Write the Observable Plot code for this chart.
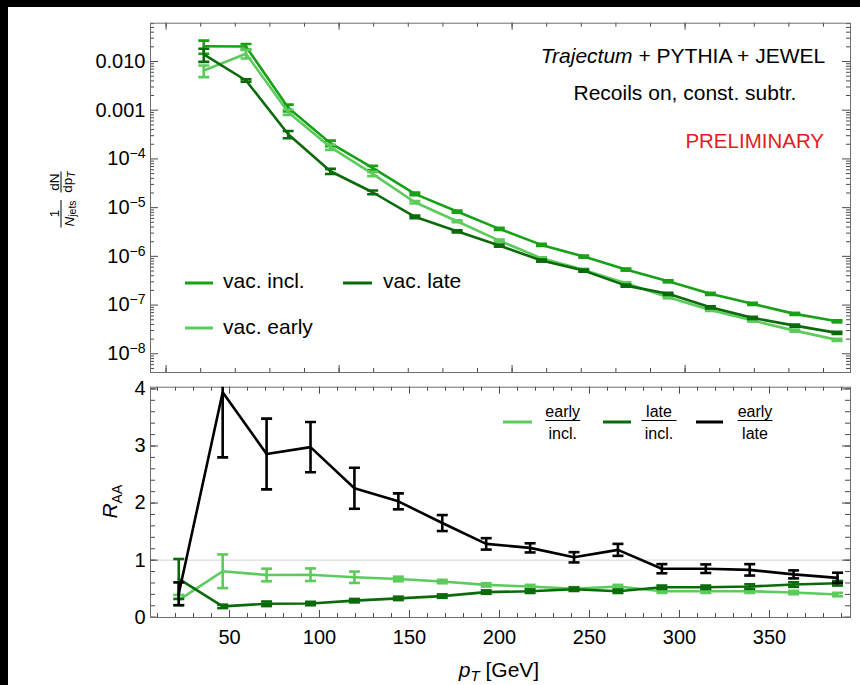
<!DOCTYPE html>
<html><head><meta charset="utf-8">
<script src="https://cdn.jsdelivr.net/npm/d3@7"></script>
<script src="https://cdn.jsdelivr.net/npm/@observablehq/plot@0.6"></script>
<style>
html,body{margin:0;padding:0;background:#000;width:860px;height:685px;overflow:hidden;font-family:"Liberation Sans",Arial,Helvetica,sans-serif}
#page{position:absolute;left:8px;top:7px;width:852px;height:678px;background:#fff}
#top{position:absolute;left:0;top:0}
#bottom{position:absolute;left:0;top:372px}
svg{display:block}
</style></head><body><div id="page"><div id="top"></div><div id="bottom"></div></div>
<script>
// ---------- data ----------
const pT = [21.8, 46.2, 70.6, 95.0, 119.4, 143.8, 168.2, 192.6, 217.0, 241.4, 265.8, 290.2, 314.6, 339.0, 363.4, 387.8];

const vacIncl  = [0.0206, 0.0203, 1.12e-3, 2.10e-4, 6.56e-5, 1.92e-5, 8.32e-6, 3.67e-6, 1.72e-6, 9.9e-7, 5.36e-7, 3.08e-7, 1.70e-7, 1.06e-7, 6.6e-8, 4.65e-8];
const vacEarly = [6.53e-3, 0.0144, 9.1e-4, 1.74e-4, 4.94e-5, 1.29e-5, 5.26e-6, 2.11e-6, 9.1e-7, 5.28e-7, 2.81e-7, 1.45e-7, 7.96e-8, 4.81e-8, 2.99e-8, 1.93e-8];
const vacLate  = [0.0140, 4.07e-3, 3.2e-4, 5.58e-5, 2.07e-5, 6.47e-6, 3.27e-6, 1.67e-6, 8.2e-7, 5.1e-7, 2.51e-7, 1.70e-7, 9.0e-8, 5.46e-8, 3.79e-8, 2.69e-8];
// relative errors
const relErrIncl  = [0.30, 0.13, 0.16, 0.13, 0.10, 0.06, 0.05, 0.05, 0.05, 0.05, 0.05, 0.05, 0.05, 0.05, 0.05, 0.05];
const relErrEarly = [0.27, 0.20, 0.12, 0.12, 0.10, 0.06, 0.05, 0.05, 0.05, 0.05, 0.05, 0.05, 0.05, 0.05, 0.05, 0.05];
const relErrLate  = [0.30, 0.06, 0.17, 0.12, 0.09, 0.06, 0.05, 0.05, 0.05, 0.05, 0.05, 0.05, 0.05, 0.05, 0.05, 0.05];

const ratioEarlyIncl = [0.30, 0.805, 0.74, 0.745, 0.70, 0.67, 0.625, 0.567, 0.537, 0.497, 0.537, 0.455, 0.455, 0.455, 0.432, 0.397];
const errEarlyIncl   = [0.09, 0.295, 0.11, 0.11, 0.10, 0.04, 0.03, 0.03, 0.03, 0.03, 0.03, 0.03, 0.03, 0.03, 0.03, 0.03];
const ratioLateIncl  = [0.67, 0.19, 0.235, 0.24, 0.29, 0.33, 0.37, 0.44, 0.455, 0.49, 0.455, 0.525, 0.525, 0.537, 0.572, 0.595];
const errLateIncl    = [0.35, 0.03, 0.04, 0.03, 0.03, 0.03, 0.03, 0.03, 0.03, 0.03, 0.03, 0.03, 0.03, 0.04, 0.04, 0.04];
const ratioEarlyLate = [0.41, 3.94, 2.86, 2.98, 2.26, 2.03, 1.65, 1.285, 1.215, 1.05, 1.18, 0.85, 0.85, 0.83, 0.75, 0.69];
const errEarlyLate   = [0.20, 1.14, 0.62, 0.44, 0.36, 0.14, 0.14, 0.10, 0.08, 0.09, 0.105, 0.08, 0.075, 0.10, 0.07, 0.09];

// tick labels
const upperYTicks = [1e-2, 1e-3, 1e-4, 1e-5, 1e-6, 1e-7, 1e-8];
const upperYLabels = ["0.010", "0.001", "10^-4", "10^-5", "10^-6", "10^-7", "10^-8"];
const lowerXTicks = [50, 100, 150, 200, 250, 300, 350];
const lowerYTicks = [0, 1, 2, 3, 4];
const lowerYLabels = ["0", "1", "2", "3", "4"];

// ---------- style ----------
const FONT = '"Liberation Sans", Arial, Helvetica, sans-serif';
const C_INCL = "#17a117", C_EARLY = "#5ccb5c", C_LATE = "#0b6b0b", C_RATIO = "#000000";
const FRAME = "#6e6e6e", TICK = "#4a4a4a";
const SW = 2.6;

const capSymbol = {draw(ctx, size) { const r = Math.sqrt(size / Math.PI); ctx.moveTo(-r, 0); ctx.lineTo(r, 0); }};

function seriesMarks(rows, color) {
  return [
    Plot.ruleX(rows, {x: "x", y1: "lo", y2: "hi", stroke: color, strokeWidth: SW, clip: true}),
    Plot.dot(rows, {x: "x", y: "lo", symbol: capSymbol, r: 5.5, stroke: color, strokeWidth: SW, fill: "none", clip: true}),
    Plot.dot(rows, {x: "x", y: "hi", symbol: capSymbol, r: 5.5, stroke: color, strokeWidth: SW, fill: "none", clip: true}),
    Plot.line(rows, {x: "x", y: "y", stroke: color, strokeWidth: SW, clip: true})
  ];
}
const relRows = (vals, rel) => pT.map((x, i) => ({x, y: vals[i], lo: vals[i] * (1 - rel[i]), hi: vals[i] * (1 + rel[i])}));
const absRows = (vals, err) => pT.map((x, i) => ({x, y: vals[i], lo: vals[i] - err[i], hi: vals[i] + err[i]}));

function tickMarks(innerW, innerH, xs, xLen, ys, yLen) {
  return [
    Plot.tickX(xs, {x: d => d, insetTop: innerH - xLen, stroke: TICK}),
    Plot.tickX(xs, {x: d => d, insetBottom: innerH - xLen, stroke: TICK}),
    Plot.tickY(ys, {y: d => d, insetRight: innerW - yLen, stroke: TICK}),
    Plot.tickY(ys, {y: d => d, insetLeft: innerW - yLen, stroke: TICK})
  ];
}

// ---------- upper panel ----------
const W = 852, ML = 142, MR = 10, innerW = W - ML - MR;
const UH = 372, UMT = 15.7, UMB = 7, uInnerH = UH - UMT - UMB;

const uMinorY = [];
for (let e = -9; e <= -2; e++) for (let k = 2; k <= 9; k++) { const v = k * Math.pow(10, e); if (v > 4.13e-9 && v < 0.0611) uMinorY.push(v); }
const uMinorX = d3.range(0, 396, 20);
const uMajorX = [0, 100, 200, 300];
const labelMap = new Map(upperYTicks.map((v, i) => [v, upperYLabels[i]]));
const lowerLabelMap = new Map(lowerYTicks.map((v, i) => [v, lowerYLabels[i]]));

const upper = Plot.plot({
  width: W, height: UH, marginLeft: ML, marginRight: MR, marginTop: UMT, marginBottom: UMB,
  x: {domain: [-9, 395.6], axis: null},
  y: {type: "log", domain: [4.13e-9, 0.0611], label: null},
  style: {fontFamily: FONT, fontSize: "20px", color: "#000", background: "transparent", overflow: "visible"},
  marks: [
    ...tickMarks(innerW, uInnerH, uMinorX, 4, uMinorY, 4),
    ...tickMarks(innerW, uInnerH, uMajorX, 7, upperYTicks, 8),
    Plot.frame({stroke: FRAME}),
    Plot.axisY(upperYTicks, {anchor: "left", tickSize: 0, tickPadding: 5, label: null, fontSize: 20, tickFormat: v => labelMap.get(v)}),
    ...seriesMarks(relRows(vacIncl, relErrIncl), C_INCL),
    ...seriesMarks(relRows(vacEarly, relErrEarly), C_EARLY),
    ...seriesMarks(relRows(vacLate, relErrLate), C_LATE)
  ]
});
document.getElementById("top").appendChild(upper);

// ---------- lower panel ----------
const LH = 306, LMT = 7.7, LMB = 68, lInnerH = LH - LMT - LMB;
const lMinorX = d3.range(10, 395, 10);
const lMinorY = d3.range(0, 4.01, 0.2);

const lower = Plot.plot({
  width: W, height: LH, marginLeft: ML, marginRight: MR, marginTop: LMT, marginBottom: LMB,
  x: {domain: [6.1, 395], label: null},
  y: {domain: [-0.005, 4.03], label: null},
  style: {fontFamily: FONT, fontSize: "20px", color: "#000", background: "transparent", overflow: "visible"},
  marks: [
    Plot.ruleY([1], {stroke: "#d4d4d4", strokeWidth: 1}),
    ...tickMarks(innerW, lInnerH, lMinorX, 4, lMinorY, 5),
    ...tickMarks(innerW, lInnerH, lowerXTicks, 7, lowerYTicks, 8),
    Plot.frame({stroke: FRAME}),
    Plot.axisX(lowerXTicks, {anchor: "bottom", tickSize: 0, tickPadding: 12, label: null, fontSize: 20, tickFormat: d => String(d)}),
    Plot.axisY(lowerYTicks, {anchor: "left", tickSize: 0, tickPadding: 5, label: null, fontSize: 20, tickFormat: v => lowerLabelMap.get(v)}),
    ...seriesMarks(absRows(ratioEarlyIncl, errEarlyIncl), C_EARLY),
    ...seriesMarks(absRows(ratioLateIncl, errLateIncl), C_LATE),
    ...seriesMarks(absRows(ratioEarlyLate, errEarlyLate), C_RATIO)
  ]
});
document.getElementById("bottom").appendChild(lower);

// ---------- rich text helpers ----------
function superscriptLabels(svg) {
  d3.select(svg).selectAll("text").each(function() {
    const t = this.textContent;
    if (!t.includes("^")) return;
    const [base, exp] = t.split("^");
    this.textContent = "";
    const s = d3.select(this);
    s.append("tspan").text(base);
    s.append("tspan").attr("dy", "-0.5em").attr("font-size", "0.7em").text(exp.replace("-", "\u2212"));
  });
}
superscriptLabels(upper);

function addText(svg, x, y, parts, o = {}) {
  const t = d3.select(svg).append("text").attr("x", x).attr("y", y)
    .attr("text-anchor", o.anchor || "start").attr("font-size", o.size || 21)
    .attr("font-family", FONT).attr("fill", o.fill || "#000");
  if (o.transform) t.attr("transform", o.transform);
  for (const p of parts) {
    const s = t.append("tspan").text(p.t);
    if (p.italic) s.attr("font-style", "italic");
    if (p.size) s.attr("font-size", p.size);
    if (p.dy) s.attr("dy", p.dy);
  }
  return t;
}
function addLine(sel, x1, y1, x2, y2, color, w) {
  sel.append("line").attr("x1", x1).attr("y1", y1).attr("x2", x2).attr("y2", y2)
    .attr("stroke", color).attr("stroke-width", w);
}

// upper annotations
addText(upper, 675, 56, [{t: "Trajectum", italic: true}, {t: " + PYTHIA + JEWEL"}], {anchor: "middle"});
addText(upper, 677, 93, [{t: "Recoils on, const. subtr."}], {anchor: "middle"});
addText(upper, 816, 141, [{t: "PRELIMINARY"}], {anchor: "end", fill: "#e8191f", size: 20.5});

// upper legend
const us = d3.select(upper);
addLine(us, 177, 276, 205, 276, C_INCL, 3);
addText(upper, 215, 280.5, [{t: "vac. incl."}]);
addLine(us, 335, 276, 364, 276, C_LATE, 3);
addText(upper, 375, 280.5, [{t: "vac. late"}]);
addLine(us, 177, 321, 205, 321, C_EARLY, 3);
addText(upper, 215, 326.5, [{t: "vac. early"}]);

// upper y label (rotated fraction)
const g = us.append("g").attr("transform", "translate(53,192.5) rotate(-90)");
function gText(x, y, parts, size) {
  const t = g.append("text").attr("x", x).attr("y", y).attr("text-anchor", "middle")
    .attr("font-size", size).attr("font-family", FONT).attr("fill", "#000");
  for (const p of parts) {
    const s = t.append("tspan").text(p.t);
    if (p.italic) s.attr("font-style", "italic");
    if (p.size) s.attr("font-size", p.size);
    if (p.dy) s.attr("dy", p.dy);
  }
}
gText(-14, -2.5, [{t: "1"}], 13.5);
addLine(g, -28, 0, -0.5, 0, "#000", 1);
gText(-14, 12.5, [{t: "N", italic: true}, {t: "jets", size: 10.5, dy: 2.5}], 13.5);
gText(17.5, -2.5, [{t: "dN"}], 13.5);
addLine(g, 7, 0, 28, 0, "#000", 1);
gText(17.5, 11, [{t: "dp"}, {t: "T", italic: true, size: 10.5, dy: 2.5}], 13.5);

// lower annotations
const ls = d3.select(lower);
addText(lower, 0, 0, [{t: "R", italic: true}, {t: "AA", size: 14, dy: 5}], {anchor: "middle", transform: "translate(109,122.7) rotate(-90)"});
addText(lower, 491, 297.5, [{t: "p", italic: true}, {t: "T", italic: true, size: 15, dy: 4.5}, {t: " [GeV]", dy: -4.5}], {anchor: "middle"});

// lower legend
const legendItems = [
  {x1: 495, x2: 524, cx: 554.7, num: "early", den: "incl.", color: C_EARLY},
  {x1: 595, x2: 623, cx: 651, num: "late", den: "incl.", color: C_LATE},
  {x1: 688, x2: 715, cx: 747, num: "early", den: "late", color: C_RATIO}
];
for (const it of legendItems) {
  addLine(ls, it.x1, 43, it.x2, 43, it.color, 3);
  addText(lower, it.cx, 37.5, [{t: it.num}], {anchor: "middle", size: 16});
  addText(lower, it.cx, 59.5, [{t: it.den}], {anchor: "middle", size: 16});
  addLine(ls, it.cx - 17.5, 41.5, it.cx + 17.5, 41.5, "#000", 1);
}
</script>
</body></html>
